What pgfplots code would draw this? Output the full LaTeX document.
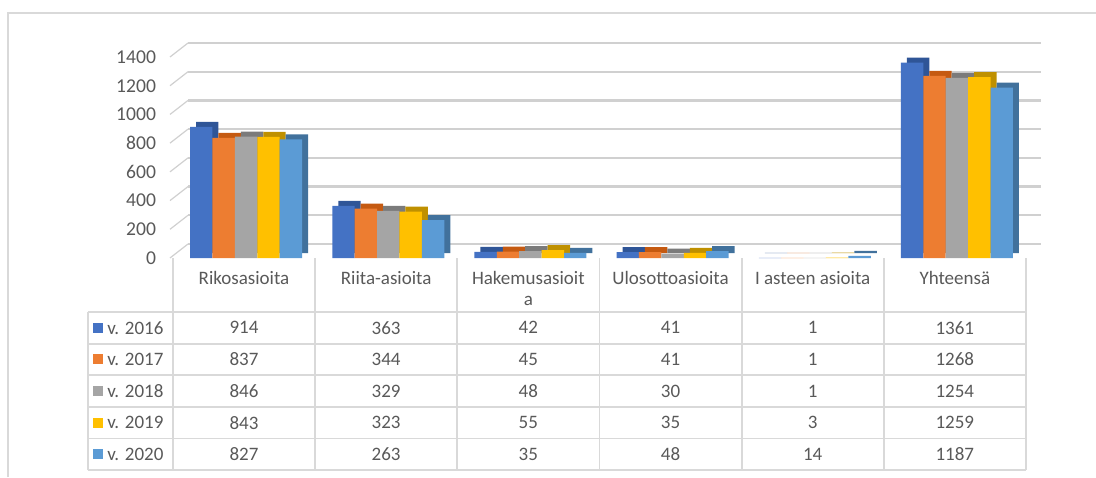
\documentclass[border=0pt]{standalone}
\usepackage{pgfplots}
\pgfplotsset{compat=1.18}
\usepackage{pgfplotstable}
\usepackage{fontspec}
\setmainfont{Carlito}

% Office colours, front faces and darker top/side faces
\definecolor{c0}{HTML}{4472C4}
\definecolor{c1}{HTML}{ED7D31}
\definecolor{c2}{HTML}{A5A5A5}
\definecolor{c3}{HTML}{FFC000}
\definecolor{c4}{HTML}{5B9BD5}
\definecolor{d0}{HTML}{2F5597}
\definecolor{d1}{HTML}{C55A11}
\definecolor{d2}{HTML}{7B7B7B}
\definecolor{d3}{HTML}{BF9000}
\definecolor{d4}{HTML}{41719C}
\definecolor{txt}{HTML}{595959}
\definecolor{tline}{HTML}{D9D9D9}
\definecolor{gline}{HTML}{D0D0D0}

% rows = categories (0..5), columns = years
\pgfplotstableread{
cat y2016 y2017 y2018 y2019 y2020
0   914   837   846   843   827
1   363   344   329   323   263
2   42    45    48    55    35
3   41    41    30    35    48
4   1     1     1     3     14
5   1361  1268  1254  1259  1187
}\data

\begin{document}
\begin{tikzpicture}[x=0.5pt,y=0.5pt,font=\fontsize{9.5}{11}\selectfont,text=txt]
\useasboundingbox (0,0) rectangle (1096,477);
\draw[tline,line width=0.7pt] (8,0) -- (8,464) -- (1096,464);

% left side wall marks (one per grid value)
\foreach \v in {0,200,...,1400}
  \draw[gline,line width=0.6pt] (170,219+0.14357*\v) -- (188,219+0.14357*\v+14);

\begin{axis}[
    at={(86.5pt,109.5pt)}, anchor=south west,
    scale only axis, width=426.5pt, height=100.5pt,
    xmin=-0.5, xmax=5.5, ymin=0, ymax=1400,
    xtick=\empty,
    ytick={0,200,...,1400},
    axis line style={draw=none},
    tick style={draw=none},
    /pgf/number format/assume math mode=true,
    /pgf/number format/1000 sep={},
    yticklabel style={font=\fontsize{9.8}{11}\selectfont, text=txt, xshift=-5pt},
    ymajorgrids,
    major grid style={draw=gline, line width=1.2pt, xshift=7.5pt, yshift=7pt},
    ybar=0pt, bar width=11.2pt,
    clip=false,
]
% top and side faces
\addplot[fill=d0,draw=none,bar shift=-21.4pt,xshift=3pt,yshift=2.5pt] table[x=cat,y=y2016]{\data};
\addplot[fill=d1,draw=none,bar shift=-10.2pt,xshift=3pt,yshift=2.5pt] table[x=cat,y=y2017]{\data};
\addplot[fill=d2,draw=none,bar shift=1pt,xshift=3pt,yshift=2.5pt] table[x=cat,y=y2018]{\data};
\addplot[fill=d3,draw=none,bar shift=12.2pt,xshift=3pt,yshift=2.5pt] table[x=cat,y=y2019]{\data};
\addplot[fill=d4,draw=none,bar shift=23.4pt,xshift=3pt,yshift=2.5pt] table[x=cat,y=y2020]{\data};
% front faces
\addplot[fill=c0,draw=none,bar shift=-21.4pt] table[x=cat,y=y2016]{\data};
\addplot[fill=c1,draw=none,bar shift=-10.2pt] table[x=cat,y=y2017]{\data};
\addplot[fill=c2,draw=none,bar shift=1pt] table[x=cat,y=y2018]{\data};
\addplot[fill=c3,draw=none,bar shift=12.2pt] table[x=cat,y=y2019]{\data};
\addplot[fill=c4,draw=none,bar shift=23.4pt] table[x=cat,y=y2020]{\data};
\end{axis}

% data table
\begin{scope}[tline,line width=0.9pt]
  \foreach \i in {0,...,6} \draw (173+142.1667*\i,7) -- (173+142.1667*\i,219);
  \draw (88,7) -- (88,165);
  \foreach \yy in {165,133.4,101.8,70.2,38.6,7} \draw (88,\yy) -- (1026,\yy);
\end{scope}
\foreach \name [count=\i from 0] in {Rikosasioita,Riita-asioita,{Hakemusasioit\\a},Ulosottoasioita,I asteen asioita,Yhteensä}
  \node[anchor=north,align=center,inner sep=0pt,font=\fontsize{9.5}{10.5}\selectfont] at (244+142.1667*\i,206) {\name};
\foreach \yr [count=\r from 0] in {2016,2017,2018,2019,2020}{
  \fill[c\r] (93,149.2-31.6*\r-5) rectangle (103,149.2-31.6*\r+5);
  \node[anchor=west,inner sep=0pt] at (107,149.2-31.6*\r) {v. \yr};
  \foreach \c in {0,...,5}{
    \pgfplotstablegetelem{\c}{y\yr}\of\data
    \node[inner sep=0pt] at (244+142.1667*\c,149.2-31.6*\r) {\pgfplotsretval};
  }
}
\end{tikzpicture}
\end{document}
